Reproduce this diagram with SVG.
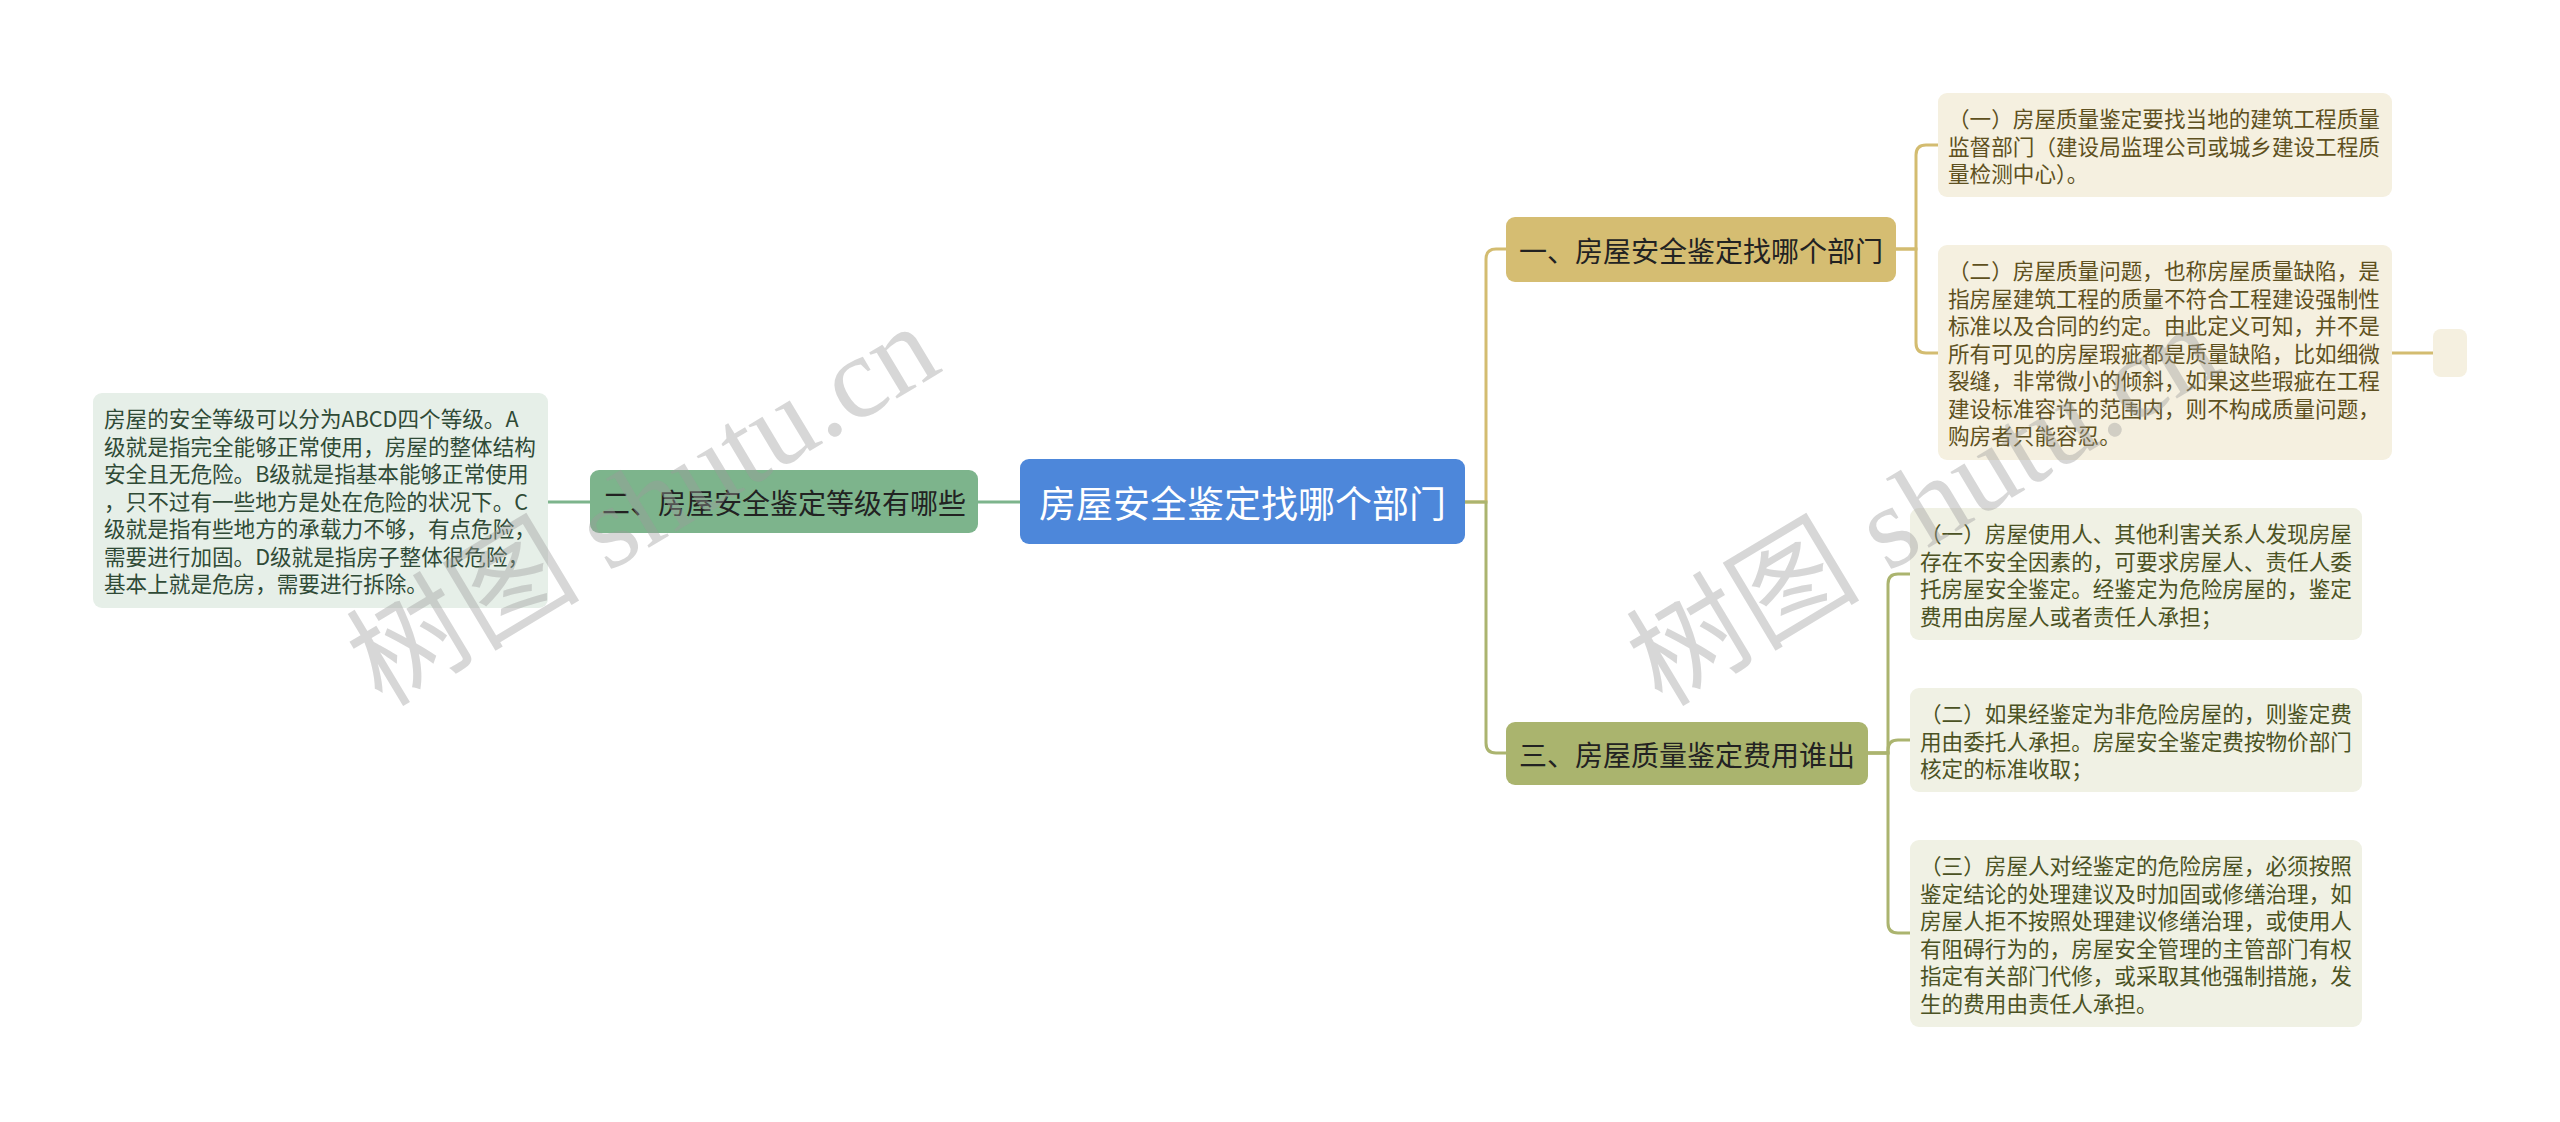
<svg xmlns="http://www.w3.org/2000/svg" width="2560" height="1122" viewBox="0 0 2560 1122">
<style>
text{font-family:"Noto Sans CJK SC","Liberation Sans",sans-serif;}
.leaf{font-size:21.6px;dominant-baseline:central;}
.lbl{font-size:28px;dominant-baseline:central;text-anchor:middle;fill:#222;}
.c{fill:none;stroke-width:3;}
.gold{stroke:#d3bc70;}
.olive{stroke:#abb46f;}
.green{stroke:#7db48c;}
.wm{font-family:"Liberation Serif","Noto Sans CJK SC",serif;font-size:117px;fill:#9a9a9a;fill-opacity:0.4;}
</style>
<rect width="2560" height="1122" fill="#ffffff"/>
<g id="connectors">
<path class="c green" d="M1020,502 H978"/>
<path class="c green" d="M591,502 H548"/>
<path class="c gold" d="M1465,502 H1486 V259 Q1486,249 1496,249 H1506"/>
<path class="c olive" d="M1465,502 H1486 V743 Q1486,753 1496,753 H1506"/>
<path class="c gold" d="M1896,249 H1916 V155 Q1916,145 1926,145 H1938"/>
<path class="c gold" d="M1896,249 H1916 V343 Q1916,353 1926,353 H1938"/>
<path class="c gold" d="M2392,353 H2433"/>
<path class="c olive" d="M1868,753 H1888 V584 Q1888,574 1898,574 H1910"/>
<path class="c olive" d="M1868,753 H1888 V750 Q1888,740 1898,740 H1910"/>
<path class="c olive" d="M1868,753 H1888 V923 Q1888,933 1898,933 H1910"/>
</g>
<g id="root">
<rect x="1020" y="459" width="445" height="85" rx="9" fill="#4d87da"/>
<text x="1242.5" y="502" style="font-size:37px;dominant-baseline:central;text-anchor:middle;fill:#ffffff">房屋安全鉴定找哪个部门</text>
</g>
<g id="branch1">
<rect x="1506" y="217" width="390" height="65" rx="9" fill="#d5bd72"/>
<text class="lbl" x="1701" y="249.5">一、房屋安全鉴定找哪个部门</text>
</g>
<g id="branch2">
<rect x="590" y="470" width="388" height="63" rx="9" fill="#7db48c"/>
<text class="lbl" x="784" y="501.5">二、房屋安全鉴定等级有哪些</text>
</g>
<g id="branch3">
<rect x="1506" y="722" width="362" height="63" rx="9" fill="#aab46e"/>
<text class="lbl" x="1687" y="753.5">三、房屋质量鉴定费用谁出</text>
</g>
<g id="leaf2" fill="#2f4a36">
<rect x="93" y="393" width="455" height="215" rx="9" fill="#e6efe8"/>
<text class="leaf" x="104" y="417.75">房屋的安全等级可以分为ABCD四个等级。A</text>
<text class="leaf" x="104" y="445.25">级就是指完全能够正常使用，房屋的整体结构</text>
<text class="leaf" x="104" y="472.75">安全且无危险。B级就是指基本能够正常使用</text>
<text class="leaf" x="104" y="500.25">，只不过有一些地方是处在危险的状况下。C</text>
<text class="leaf" x="104" y="527.75">级就是指有些地方的承载力不够，有点危险，</text>
<text class="leaf" x="104" y="555.25">需要进行加固。D级就是指房子整体很危险，</text>
<text class="leaf" x="104" y="582.75">基本上就是危房，需要进行拆除。</text>
</g>
<g id="leaf1a" fill="#5e5020">
<rect x="1938" y="93" width="454" height="104" rx="9" fill="#f5f0e0"/>
<text class="leaf" x="1948" y="117.75">（一）房屋质量鉴定要找当地的建筑工程质量</text>
<text class="leaf" x="1948" y="145.25">监督部门（建设局监理公司或城乡建设工程质</text>
<text class="leaf" x="1948" y="172.75">量检测中心）。</text>
</g>
<g id="leaf1b" fill="#5e5020">
<rect x="1938" y="245" width="454" height="215" rx="9" fill="#f5f0e0"/>
<text class="leaf" x="1948" y="269.75">（二）房屋质量问题，也称房屋质量缺陷，是</text>
<text class="leaf" x="1948" y="297.25">指房屋建筑工程的质量不符合工程建设强制性</text>
<text class="leaf" x="1948" y="324.75">标准以及合同的约定。由此定义可知，并不是</text>
<text class="leaf" x="1948" y="352.25">所有可见的房屋瑕疵都是质量缺陷，比如细微</text>
<text class="leaf" x="1948" y="379.75">裂缝，非常微小的倾斜，如果这些瑕疵在工程</text>
<text class="leaf" x="1948" y="407.25">建设标准容许的范围内，则不构成质量问题，</text>
<text class="leaf" x="1948" y="434.75">购房者只能容忍。</text>
</g>
<g id="leaf1b-child">
<rect x="2433" y="329" width="34" height="48" rx="8" fill="#f5f0e0"/>
</g>
<g id="leaf3a" fill="#4b5223">
<rect x="1910" y="508" width="452" height="132" rx="9" fill="#f0f1e4"/>
<text class="leaf" x="1920" y="532.75">（一）房屋使用人、其他利害关系人发现房屋</text>
<text class="leaf" x="1920" y="560.25">存在不安全因素的，可要求房屋人、责任人委</text>
<text class="leaf" x="1920" y="587.75">托房屋安全鉴定。经鉴定为危险房屋的，鉴定</text>
<text class="leaf" x="1920" y="615.25">费用由房屋人或者责任人承担；</text>
</g>
<g id="leaf3b" fill="#4b5223">
<rect x="1910" y="688" width="452" height="104" rx="9" fill="#f0f1e4"/>
<text class="leaf" x="1920" y="712.75">（二）如果经鉴定为非危险房屋的，则鉴定费</text>
<text class="leaf" x="1920" y="740.25">用由委托人承担。房屋安全鉴定费按物价部门</text>
<text class="leaf" x="1920" y="767.75">核定的标准收取；</text>
</g>
<g id="leaf3c" fill="#4b5223">
<rect x="1910" y="840" width="452" height="187" rx="9" fill="#f0f1e4"/>
<text class="leaf" x="1920" y="864.75">（三）房屋人对经鉴定的危险房屋，必须按照</text>
<text class="leaf" x="1920" y="892.25">鉴定结论的处理建议及时加固或修缮治理，如</text>
<text class="leaf" x="1920" y="919.75">房屋人拒不按照处理建议修缮治理，或使用人</text>
<text class="leaf" x="1920" y="947.25">有阻碍行为的，房屋安全管理的主管部门有权</text>
<text class="leaf" x="1920" y="974.75">指定有关部门代修，或采取其他强制措施，发</text>
<text class="leaf" x="1920" y="1002.25">生的费用由责任人承担。</text>
</g>
<g id="watermark">
<text class="wm" transform="translate(382,708) rotate(-31)">树图 shutu.cn</text>
<text class="wm" transform="translate(1662,708) rotate(-31)">树图 shutu.cn</text>
</g>
</svg>
